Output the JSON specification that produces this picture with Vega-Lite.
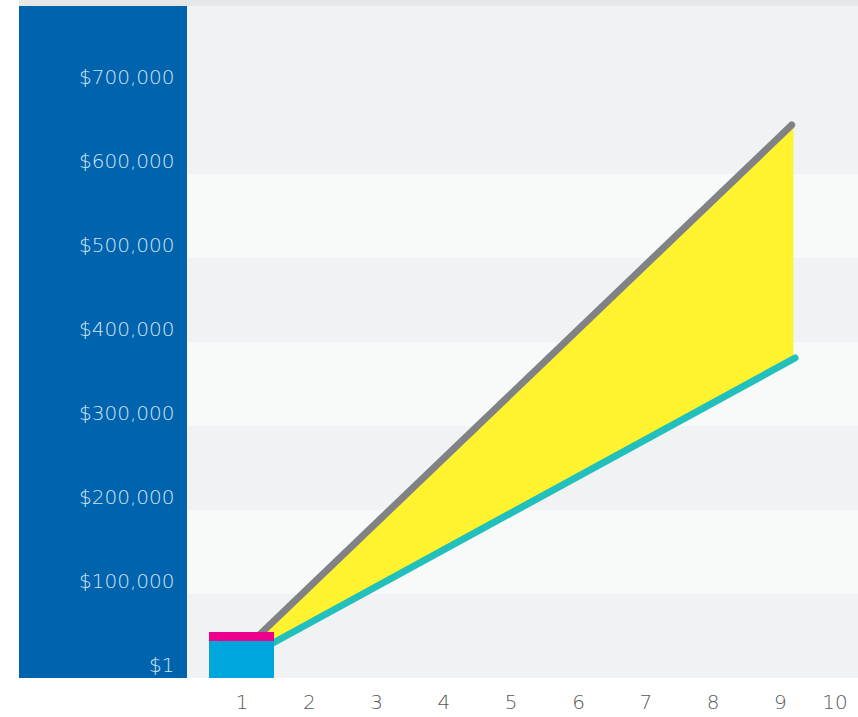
{
  "$schema": "https://vega.github.io/schema/vega-lite/v6.json",
  "width": 839,
  "height": 678,
  "autosize": {"type": "none"},
  "padding": {"left": 19, "top": 0, "right": 0, "bottom": 39},
  "background": "#ffffff",
  "config": {
    "view": {"stroke": null},
    "axisX": {"domain": false, "ticks": false, "grid": false, "labelFontSize": 20, "labelColor": "#58595b", "labelFont": "DejaVu Sans", "labelFontWeight": 200, "labelPadding": 14, "labelFlush": 12, "format": "d", "title": null}
  },
  "datasets": {
    "bands": [
      {"lo": 0, "hi": 100000, "shade": "dark"},
      {"lo": 100000, "hi": 200000, "shade": "light"},
      {"lo": 200000, "hi": 300000, "shade": "dark"},
      {"lo": 300000, "hi": 400000, "shade": "light"},
      {"lo": 400000, "hi": 500000, "shade": "dark"},
      {"lo": 500000, "hi": 600000, "shade": "light"},
      {"lo": 600000, "hi": 800000, "shade": "dark"},
      {"lo": 800000, "hi": 807143, "shade": "top"}
    ],
    "panel": [{"xa": -2.306, "xb": 0.19, "lo": 0, "hi": 800000}],
    "gap": [
      {"x": 1, "hi": 31000, "lo": 21200},
      {"x": 9.2, "hi": 660000, "lo": 380000}
    ],
    "lines": [
      {"x": 1, "v": 31000, "series": "upper"},
      {"x": 9.175, "v": 658300, "series": "upper"},
      {"x": 1, "v": 21200, "series": "lower"},
      {"x": 9.224, "v": 381000, "series": "lower"}
    ],
    "bar": [
      {"x": 1, "lo": 0, "hi": 44000, "seg": "base"},
      {"x": 1, "lo": 44000, "hi": 54800, "seg": "top"}
    ]
  },
  "layer": [
    {
      "data": {"name": "bands"},
      "mark": {"type": "rect"},
      "encoding": {
        "y": {"field": "lo", "type": "quantitative", "scale": {"domain": [0, 807143], "nice": false, "zero": false, "padding": 0}, "title": null,
              "axis": {"values": [0, 100000, 200000, 300000, 400000, 500000, 600000, 700000],
                       "labelExpr": "datum.value == 0 ? '$1' : '$' + format(datum.value, ',')",
                       "offset": -168, "zindex": 3, "domain": false, "ticks": false, "tickSize": 0, "grid": false,
                       "labelFontSize": 20, "labelColor": "#d3e3f3", "labelFont": "DejaVu Sans", "labelFontWeight": 200,
                       "labelPadding": 13, "labelBaseline": "alphabetic", "labelOffset": -7, "labelOverlap": false, "labelBound": false}},
        "y2": {"field": "hi"},
        "color": {"field": "shade", "type": "nominal", "scale": {"domain": ["dark", "light", "top"], "range": ["#f1f2f4", "#f8f9f9", "#e6e7e9"]}, "legend": null}
      }
    },
    {
      "data": {"name": "panel"},
      "mark": {"type": "rect", "color": "#0063ae"},
      "encoding": {
        "x": {"field": "xa", "type": "quantitative", "scale": {"domain": [-2.306, 10.16], "nice": false, "zero": false, "padding": 0}, "title": null,
              "axis": {"values": [1, 2, 3, 4, 5, 6, 7, 8, 9, 10]}},
        "x2": {"field": "xb"},
        "y": {"field": "lo", "type": "quantitative", "title": null},
        "y2": {"field": "hi"}
      }
    },
    {
      "data": {"name": "gap"},
      "mark": {"type": "area", "color": "#fff22f", "opacity": 1},
      "encoding": {
        "x": {"field": "x", "type": "quantitative", "title": null},
        "y": {"field": "hi", "type": "quantitative", "title": null},
        "y2": {"field": "lo"}
      }
    },
    {
      "data": {"name": "lines"},
      "mark": {"type": "line", "strokeWidth": 7, "strokeCap": "round"},
      "encoding": {
        "x": {"field": "x", "type": "quantitative", "title": null},
        "y": {"field": "v", "type": "quantitative", "title": null},
        "detail": {"field": "series"},
        "stroke": {"field": "series", "type": "nominal", "scale": {"domain": ["upper", "lower"], "range": ["#808285", "#22c0bd"]}, "legend": null}
      }
    },
    {
      "data": {"name": "bar"},
      "mark": {"type": "bar", "size": 65},
      "encoding": {
        "x": {"field": "x", "type": "quantitative", "title": null},
        "y": {"field": "lo", "type": "quantitative", "title": null},
        "y2": {"field": "hi"},
        "fill": {"field": "seg", "type": "nominal", "scale": {"domain": ["base", "top"], "range": ["#00a6de", "#ec008c"]}, "legend": null}
      }
    }
  ]
}
